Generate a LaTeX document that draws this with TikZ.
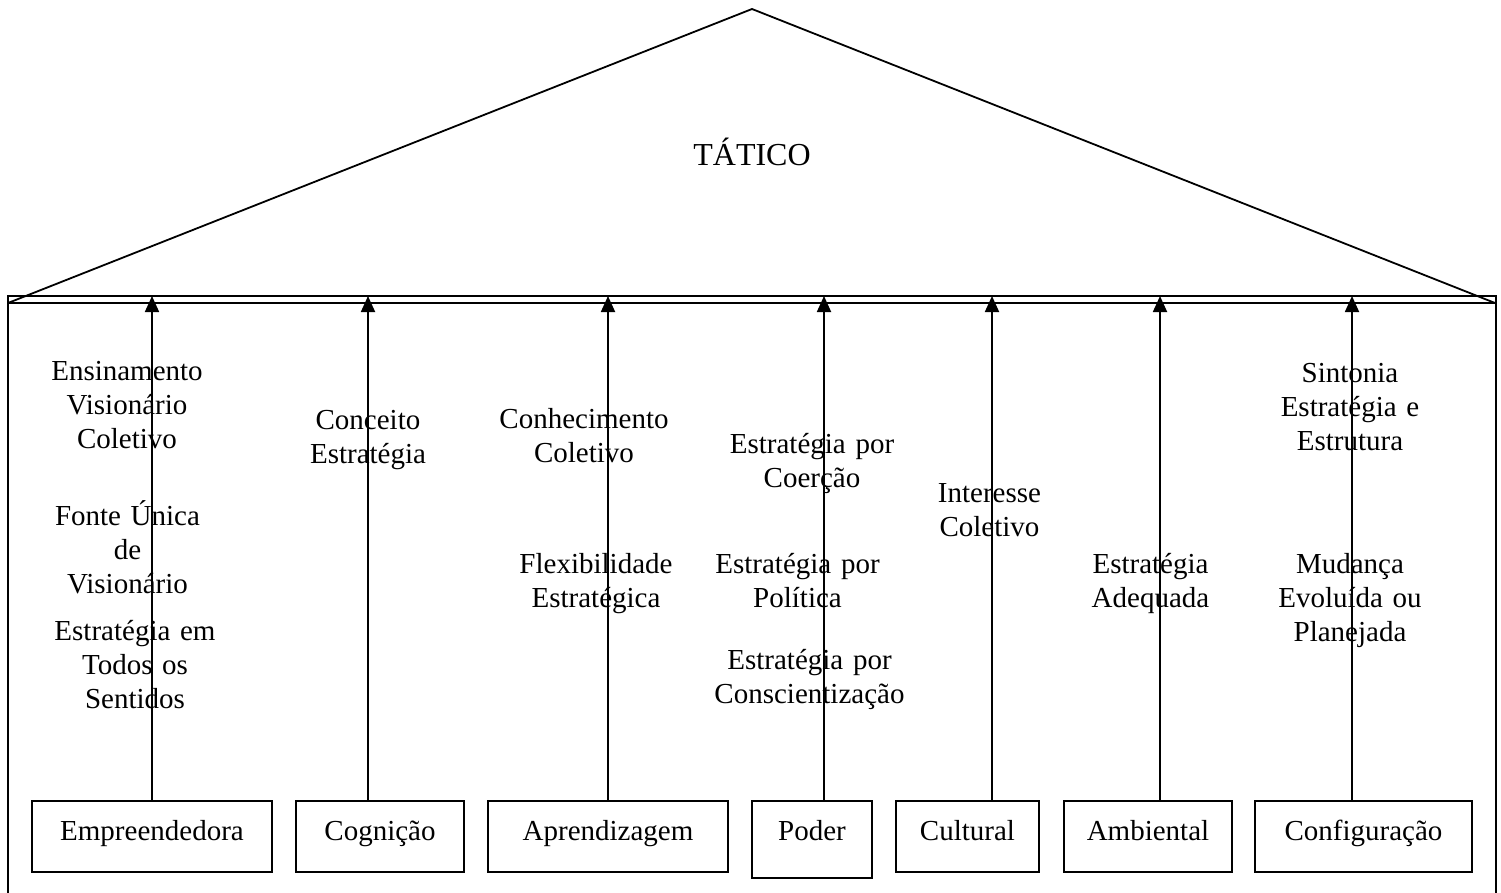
\documentclass[tikz,border=0pt]{standalone}
\usepackage{fontspec}
\setmainfont{Liberation Serif}
\usetikzlibrary{arrows.meta}
\begin{document}
\begin{tikzpicture}[x=1pt,y=-1pt,
  line width=1.8pt,
  every node/.style={font=\fontsize{29}{34}\selectfont, inner sep=0pt},
  lbl/.style={text width=260pt, align=center, anchor=base},
  school/.style={draw, anchor=base, text height=39pt, text depth=32pt},
  arr/.style={-{Triangle[length=16pt,width=14pt]}}]
\useasboundingbox (0,0) rectangle (1501,893);

% roof and frame
\draw (8,303) -- (752,9) -- (1495,303);
\draw (8,893) -- (8,296) -- (1496,296) -- (1496,893);
\draw (8,303) -- (1496,303);
\node[anchor=base, font=\fontsize{32}{38}\selectfont] (tatico) at (752,166) {TÁTICO};

% schools of strategy
\node[school, minimum width=240pt] (emp) at (152,840) {Empreendedora};
\node[school, minimum width=168pt] (cog) at (380,840) {Cognição};
\node[school, minimum width=240pt] (apr) at (608,840) {Aprendizagem};
\node[school, minimum width=120pt, text depth=38pt] (pod) at (812,840) {Poder};
\node[school, minimum width=143pt] (cul) at (967.5,840) {Cultural};
\node[school, minimum width=168pt] (amb) at (1148,840) {Ambiental};
\node[school, minimum width=217pt] (cfg) at (1363.5,840) {Configuração};

% arrow heads on the beam
\coordinate (t1) at (152,296);
\coordinate (t2) at (368,296);
\coordinate (t3) at (608,296);
\coordinate (t4) at (824,296);
\coordinate (t5) at (992,296);
\coordinate (t6) at (1160,296);
\coordinate (t7) at (1352,296);
\draw[arr] (emp.north -| t1) -- (t1);
\draw[arr] (cog.north -| t2) -- (t2);
\draw[arr] (apr.north -| t3) -- (t3);
\draw[arr] (pod.north -| t4) -- (t4);
\draw[arr] (cul.north -| t5) -- (t5);
\draw[arr] (amb.north -| t6) -- (t6);
\draw[arr] (cfg.north -| t7) -- (t7);

% column texts
\node[lbl] (emp1) at (127,380) {Ensinamento\\Visionário\\Coletivo};
\node[lbl] (emp2) at (127.5,525) {Fonte Única\\de\\Visionário};
\node[lbl] (emp3) at (135,640) {Estratégia em\\Todos os\\Sentidos};
\node[lbl] (cog1) at (368,429) {Conceito\\Estratégia};
\node[lbl] (apr1) at (584,428) {Conhecimento\\Coletivo};
\node[lbl] (apr2) at (596,573) {Flexibilidade\\Estratégica};
\node[lbl] (pod1) at (812,453) {Estratégia por\\Coerção};
\node[lbl] (pod2) at (797.5,573) {Estratégia por\\Política};
\node[lbl] (pod3) at (809.5,669) {Estratégia por\\Conscientização};
\node[lbl] (cul1) at (989.5,502) {Interesse\\Coletivo};
\node[lbl] (amb1) at (1150.5,573) {Estratégia\\Adequada};
\node[lbl] (cfg1) at (1350,382) {Sintonia\\Estratégia e\\Estrutura};
\node[lbl] (cfg2) at (1350,573) {Mudança\\Evoluída ou\\Planejada};
\end{tikzpicture}
\end{document}
